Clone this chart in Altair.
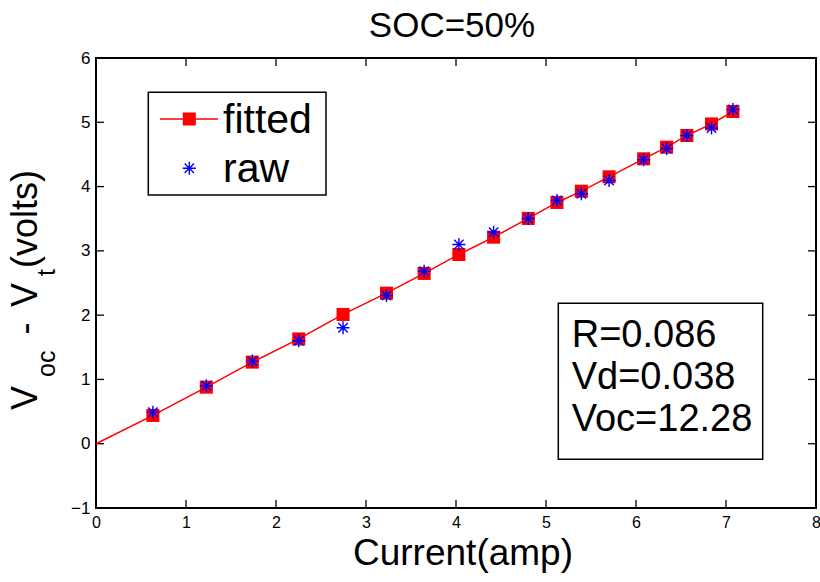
import altair as alt
import pandas as pd

# ---- data ----
current = [0.632, 1.226, 1.737, 2.253, 2.745, 3.228, 3.646, 4.032, 4.418,
           4.803, 5.122, 5.393, 5.701, 6.085, 6.340, 6.565, 6.839, 7.077]
fitted = [0.440, 0.880, 1.269, 1.630, 2.011, 2.342, 2.649, 2.944, 3.213,
          3.504, 3.753, 3.928, 4.152, 4.432, 4.613, 4.795, 4.974, 5.168]
raw = [0.491, 0.902, 1.285, 1.602, 1.804, 2.306, 2.684, 3.100, 3.291,
       3.504, 3.784, 3.888, 4.095, 4.417, 4.593, 4.795, 4.911, 5.199]
line_x = [0.0] + current
line_y = [0.0] + fitted
x_ticks = [0, 1, 2, 3, 4, 5, 6, 7, 8]
y_ticks = [-1, 0, 1, 2, 3, 4, 5, 6]
title_text = "SOC=50%"
x_title = "Current(amp)"
legend_labels = ["fitted", "raw"]
box_lines = ["R=0.086", "Vd=0.038", "Voc=12.28"]

FONT = "Liberation Sans"
W, H = 720, 450
STAR = "M0,-1L0,1M-1,0L1,0M-0.72,-0.72L0.72,0.72M-0.72,0.72L0.72,-0.72"

xenc = alt.X("x:Q", scale=alt.Scale(domain=[0, 8], nice=False, zero=False),
             axis=alt.Axis(values=x_ticks, title=None, grid=False, ticks=False,
                           tickSize=0, domain=False, labelFontSize=16,
                           labelColor="black", labelFont=FONT, labelPadding=6,
                           labelFlush=False, labelOverlap=False, format="d"))
yenc = alt.Y("y:Q", scale=alt.Scale(domain=[-1, 6], nice=False, zero=False),
             axis=alt.Axis(values=y_ticks, title=None, grid=False, ticks=False,
                           tickSize=0, domain=False, labelFontSize=17,
                           labelColor="black", labelFont=FONT, labelPadding=6,
                           labelOverlap=False, format="d"))

pts = pd.DataFrame({"x": current, "fit": fitted, "raw": raw})
line_df = pd.DataFrame({"x": line_x, "y": line_y})
xt = pd.DataFrame({"x": x_ticks})
yt = pd.DataFrame({"y": y_ticks})

tick_b = alt.Chart(xt).mark_rule(color="black", strokeWidth=1.3).encode(
    x=xenc, y=alt.value(H), y2=alt.value(H - 8))
tick_t = alt.Chart(xt).mark_rule(color="black", strokeWidth=1.3).encode(
    x=xenc, y=alt.value(0), y2=alt.value(8))
tick_l = alt.Chart(yt).mark_rule(color="black", strokeWidth=1.3).encode(
    y=yenc, x=alt.value(0), x2=alt.value(8))
tick_r = alt.Chart(yt).mark_rule(color="black", strokeWidth=1.3).encode(
    y=yenc, x=alt.value(W), x2=alt.value(W - 8))

fit_line = alt.Chart(line_df).mark_line(color="#ff0000", strokeWidth=1.5).encode(
    x=xenc, y=yenc, order="x:Q")
squares = alt.Chart(pts).mark_point(shape="square", filled=True, color="#ff0000",
                                    size=170, opacity=1).encode(
    x=xenc, y=alt.Y("fit:Q", scale=alt.Scale(domain=[-1, 6], nice=False, zero=False)))
stars = alt.Chart(pts).mark_point(shape=STAR, filled=False, color="#0000ff",
                                  strokeWidth=1.4, size=170, opacity=1).encode(
    x=xenc, y=alt.Y("raw:Q", scale=alt.Scale(domain=[-1, 6], nice=False, zero=False)))


def one():
    return pd.DataFrame({"a": [0]})


def label(text, x, y, size, angle=0, align="left"):
    return alt.Chart(pd.DataFrame({"t": [text]})).mark_text(
        font=FONT, fontSize=size, color="black", align=align,
        baseline="alphabetic", angle=angle).encode(
        text="t:N", x=alt.value(x), y=alt.value(y))


def box(x1, x2, y1, y2):
    return alt.Chart(one()).mark_rect(fill="white", stroke="black",
                                      strokeWidth=1.5).encode(
        x=alt.value(x1), x2=alt.value(x2), y=alt.value(y1), y2=alt.value(y2))


legend_box = box(52.3, 230, 34.3, 137)
leg_line = alt.Chart(one()).mark_rule(color="#ff0000", strokeWidth=1.5).encode(
    x=alt.value(64), x2=alt.value(122), y=alt.value(61))
leg_sq = alt.Chart(one()).mark_point(shape="square", filled=True, color="#ff0000",
                                     size=170, opacity=1).encode(
    x=alt.value(93.3), y=alt.value(61))
leg_star = alt.Chart(one()).mark_point(shape=STAR, filled=False, color="#0000ff",
                                       strokeWidth=1.4, size=170, opacity=1).encode(
    x=alt.value(93.3), y=alt.value(110.3))
leg_t1 = label(legend_labels[0], 127, 75, 41)
leg_t2 = label(legend_labels[1], 127, 123.7, 41)

text_box = box(462.3, 666.7, 245.3, 401.3)
bt = [label(s, 475.7, b, 38) for s, b in zip(box_lines, [288.7, 331.3, 373])]

title = label(title_text, 356, -20.7, 35, align="center")
xtitle = label(x_title, 367, 507, 37, align="center")

# y-axis title with subscripts: V_oc - V_t(volts)
yt_parts = [
    label("V", -59.3, 352, 36, angle=270),
    label("oc", -41, 319, 25, angle=270),
    label("-", -59.3, 276.6, 36, angle=270),
    label("V", -59.3, 249, 36, angle=270),
    label("t", -41, 218, 25, angle=270),
    label("(volts)", -59.3, 210, 36, angle=270),
]

chart = alt.layer(
    tick_b, tick_t, tick_l, tick_r,
    fit_line, squares, stars,
    legend_box, leg_line, leg_sq, leg_star, leg_t1, leg_t2,
    text_box, *bt, title, xtitle, *yt_parts,
).properties(
    width=W, height=H,
    padding={"left": 96, "top": 58, "right": 4, "bottom": 74},
    autosize=alt.AutoSizeParams(type="none"),
).configure_view(stroke="black", strokeWidth=2)

chart.save("out.html", embed_options={"renderer": "svg", "actions": False})
